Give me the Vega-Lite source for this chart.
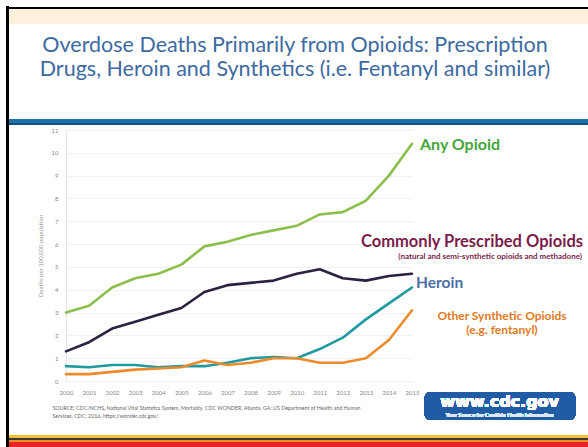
{
  "$schema": "https://vega.github.io/schema/vega-lite/v6.json",
  "width": 346,
  "height": 251,
  "autosize": "none",
  "padding": {"left": 66, "top": 130, "right": 176, "bottom": 66},
  "background": "white",
  "config": {"view": {"stroke": null}, "font": "Lato"},
  "resolve": {"scale": {"x": "independent", "y": "independent"}, "axis": {"x": "independent", "y": "independent"}},
  "title": {
    "text": ["Overdose Deaths Primarily from Opioids:  Prescription", "Drugs, Heroin and Synthetics (i.e. Fentanyl and similar)"],
    "anchor": "middle",
    "dx": 56,
    "offset": -75,
    "fontSize": 21.5,
    "font": "Lato",
    "fontWeight": "normal",
    "color": "#3d6aa1",
    "lineHeight": 24
  },
  "datasets": {
    "deaths": [
      {"year": 2000, "series": "Any Opioid", "value": 3.0},
      {"year": 2001, "series": "Any Opioid", "value": 3.3},
      {"year": 2002, "series": "Any Opioid", "value": 4.1},
      {"year": 2003, "series": "Any Opioid", "value": 4.5},
      {"year": 2004, "series": "Any Opioid", "value": 4.7},
      {"year": 2005, "series": "Any Opioid", "value": 5.1},
      {"year": 2006, "series": "Any Opioid", "value": 5.9},
      {"year": 2007, "series": "Any Opioid", "value": 6.1},
      {"year": 2008, "series": "Any Opioid", "value": 6.4},
      {"year": 2009, "series": "Any Opioid", "value": 6.6},
      {"year": 2010, "series": "Any Opioid", "value": 6.8},
      {"year": 2011, "series": "Any Opioid", "value": 7.3},
      {"year": 2012, "series": "Any Opioid", "value": 7.4},
      {"year": 2013, "series": "Any Opioid", "value": 7.9},
      {"year": 2014, "series": "Any Opioid", "value": 9.0},
      {"year": 2015, "series": "Any Opioid", "value": 10.4},
      {"year": 2000, "series": "Commonly Prescribed Opioids", "value": 1.3},
      {"year": 2001, "series": "Commonly Prescribed Opioids", "value": 1.7},
      {"year": 2002, "series": "Commonly Prescribed Opioids", "value": 2.3},
      {"year": 2003, "series": "Commonly Prescribed Opioids", "value": 2.6},
      {"year": 2004, "series": "Commonly Prescribed Opioids", "value": 2.9},
      {"year": 2005, "series": "Commonly Prescribed Opioids", "value": 3.2},
      {"year": 2006, "series": "Commonly Prescribed Opioids", "value": 3.9},
      {"year": 2007, "series": "Commonly Prescribed Opioids", "value": 4.2},
      {"year": 2008, "series": "Commonly Prescribed Opioids", "value": 4.3},
      {"year": 2009, "series": "Commonly Prescribed Opioids", "value": 4.4},
      {"year": 2010, "series": "Commonly Prescribed Opioids", "value": 4.7},
      {"year": 2011, "series": "Commonly Prescribed Opioids", "value": 4.9},
      {"year": 2012, "series": "Commonly Prescribed Opioids", "value": 4.5},
      {"year": 2013, "series": "Commonly Prescribed Opioids", "value": 4.4},
      {"year": 2014, "series": "Commonly Prescribed Opioids", "value": 4.6},
      {"year": 2015, "series": "Commonly Prescribed Opioids", "value": 4.7},
      {"year": 2000, "series": "Heroin", "value": 0.65},
      {"year": 2001, "series": "Heroin", "value": 0.6},
      {"year": 2002, "series": "Heroin", "value": 0.7},
      {"year": 2003, "series": "Heroin", "value": 0.7},
      {"year": 2004, "series": "Heroin", "value": 0.6},
      {"year": 2005, "series": "Heroin", "value": 0.65},
      {"year": 2006, "series": "Heroin", "value": 0.65},
      {"year": 2007, "series": "Heroin", "value": 0.8},
      {"year": 2008, "series": "Heroin", "value": 1.0},
      {"year": 2009, "series": "Heroin", "value": 1.05},
      {"year": 2010, "series": "Heroin", "value": 1.0},
      {"year": 2011, "series": "Heroin", "value": 1.4},
      {"year": 2012, "series": "Heroin", "value": 1.9},
      {"year": 2013, "series": "Heroin", "value": 2.7},
      {"year": 2014, "series": "Heroin", "value": 3.4},
      {"year": 2015, "series": "Heroin", "value": 4.1},
      {"year": 2000, "series": "Other Synthetic Opioids", "value": 0.3},
      {"year": 2001, "series": "Other Synthetic Opioids", "value": 0.3},
      {"year": 2002, "series": "Other Synthetic Opioids", "value": 0.4},
      {"year": 2003, "series": "Other Synthetic Opioids", "value": 0.5},
      {"year": 2004, "series": "Other Synthetic Opioids", "value": 0.55},
      {"year": 2005, "series": "Other Synthetic Opioids", "value": 0.6},
      {"year": 2006, "series": "Other Synthetic Opioids", "value": 0.9},
      {"year": 2007, "series": "Other Synthetic Opioids", "value": 0.7},
      {"year": 2008, "series": "Other Synthetic Opioids", "value": 0.8},
      {"year": 2009, "series": "Other Synthetic Opioids", "value": 1.0},
      {"year": 2010, "series": "Other Synthetic Opioids", "value": 1.0},
      {"year": 2011, "series": "Other Synthetic Opioids", "value": 0.8},
      {"year": 2012, "series": "Other Synthetic Opioids", "value": 0.8},
      {"year": 2013, "series": "Other Synthetic Opioids", "value": 1.0},
      {"year": 2014, "series": "Other Synthetic Opioids", "value": 1.8},
      {"year": 2015, "series": "Other Synthetic Opioids", "value": 3.1}
    ]
  },
  "data": {"name": "deaths"},
  "layer": [
    {
      "mark": {"type": "line", "strokeWidth": 2.6, "interpolate": "linear", "strokeJoin": "round", "strokeCap": "round"},
      "encoding": {
        "x": {
          "field": "year", "type": "quantitative",
          "scale": {"domain": [2000, 2015], "nice": false, "zero": false},
          "axis": {
            "values": [2000, 2001, 2002, 2003, 2004, 2005, 2006, 2007, 2008, 2009, 2010, 2011, 2012, 2013, 2014, 2015],
            "format": "d", "grid": false, "ticks": false, "domain": false, "labelOverlap": false, "labelFlush": false,
            "labelFontSize": 6, "labelColor": "#888", "labelPadding": 8, "labelFont": "Lato",
            "title": ["SOURCE: CDC/NCHS, National Vital Statistics System, Mortality. CDC WONDER, Atlanta, GA: US Department of Health and Human", "Services, CDC; 2016. https://wonder.cdc.gov/."],
            "titleFontSize": 5.3, "titleColor": "#666", "titleFontWeight": "normal", "titleFont": "Lato",
            "titleAnchor": "start", "titleAlign": "left", "titleBaseline": "top",
            "titleX": -14, "titleY": 24, "titleLineHeight": 8
          }
        },
        "y": {
          "field": "value", "type": "quantitative",
          "scale": {"domain": [0, 11], "nice": false},
          "axis": {
            "values": [0, 1, 2, 3, 4, 5, 6, 7, 8, 9, 10, 11],
            "ticks": false, "domainColor": "#e4e4e4", "gridColor": "#f0f0f0", "labelOverlap": false, "labelFlush": false,
            "labelFontSize": 6, "labelColor": "#888", "labelPadding": 8, "labelFont": "Lato",
            "title": "Deaths per 100,000 population", "titleFontSize": 6, "titleColor": "#999",
            "titleFontWeight": "normal", "titleFont": "Lato", "titlePadding": 8
          }
        },
        "color": {
          "field": "series", "type": "nominal", "legend": null,
          "scale": {
            "domain": ["Any Opioid", "Commonly Prescribed Opioids", "Heroin", "Other Synthetic Opioids"],
            "range": ["#8cbf4c", "#2c2140", "#1f9aa0", "#ec8a2c"]
          }
        }
      }
    },
    {
      "transform": [{"filter": "datum.series === 'Any Opioid' && datum.year === 2015"}],
      "mark": {"type": "text", "align": "left", "baseline": "middle", "dx": 8, "dy": 1, "fontSize": 16, "fontWeight": "bold", "color": "#43a63a", "font": "Lato"},
      "encoding": {"x": {"field": "year", "type": "quantitative", "scale": {"domain": [2000, 2015], "nice": false, "zero": false}, "axis": null}, "y": {"field": "value", "type": "quantitative", "scale": {"domain": [0, 11], "nice": false}, "axis": null}, "text": {"field": "series"}}
    },
    {
      "transform": [{"filter": "datum.series === 'Commonly Prescribed Opioids' && datum.year === 2015"}],
      "mark": {"type": "text", "align": "right", "baseline": "middle", "dx": 171, "dy": -32, "fontSize": 16.5, "fontWeight": "bold", "color": "#7a1d4c", "font": "Lato"},
      "encoding": {"x": {"field": "year", "type": "quantitative", "scale": {"domain": [2000, 2015], "nice": false, "zero": false}, "axis": null}, "y": {"field": "value", "type": "quantitative", "scale": {"domain": [0, 11], "nice": false}, "axis": null}, "text": {"field": "series"}}
    },
    {
      "transform": [{"filter": "datum.series === 'Commonly Prescribed Opioids' && datum.year === 2015"}],
      "mark": {"type": "text", "align": "right", "baseline": "middle", "dx": 170, "dy": -17, "fontSize": 8, "fontWeight": "bold", "color": "#7a1d4c", "font": "Lato", "text": "(natural and semi-synthetic opioids and methadone)"},
      "encoding": {"x": {"field": "year", "type": "quantitative", "scale": {"domain": [2000, 2015], "nice": false, "zero": false}, "axis": null}, "y": {"field": "value", "type": "quantitative", "scale": {"domain": [0, 11], "nice": false}, "axis": null}}
    },
    {
      "transform": [{"filter": "datum.series === 'Heroin' && datum.year === 2015"}],
      "mark": {"type": "text", "align": "left", "baseline": "middle", "dx": 4, "dy": -4, "fontSize": 15.5, "fontWeight": "bold", "color": "#4a6ea6", "font": "Lato"},
      "encoding": {"x": {"field": "year", "type": "quantitative", "scale": {"domain": [2000, 2015], "nice": false, "zero": false}, "axis": null}, "y": {"field": "value", "type": "quantitative", "scale": {"domain": [0, 11], "nice": false}, "axis": null}, "text": {"field": "series"}}
    },
    {
      "transform": [{"filter": "datum.series === 'Other Synthetic Opioids' && datum.year === 2015"}],
      "mark": {"type": "text", "align": "center", "baseline": "middle", "dx": 90, "dy": 6, "fontSize": 12, "fontWeight": "bold", "color": "#e07a1c", "font": "Lato", "lineHeight": 14, "text": ["Other Synthetic Opioids", "(e.g. fentanyl)"]},
      "encoding": {"x": {"field": "year", "type": "quantitative", "scale": {"domain": [2000, 2015], "nice": false, "zero": false}, "axis": null}, "y": {"field": "value", "type": "quantitative", "scale": {"domain": [0, 11], "nice": false}, "axis": null}}
    },
    {
      "mark": {"type": "rect", "color": "#fdf1de"},
      "encoding": {"x": {"datum": 1997.5, "type": "quantitative", "scale": {"domain": [2000, 2015], "nice": false, "zero": false}, "axis": null}, "x2": {"datum": 2023}, "y": {"datum": 16.3, "type": "quantitative", "scale": {"domain": [0, 11], "nice": false}, "axis": null}, "y2": {"datum": 15.65}}
    },
    {
      "mark": {"type": "rect", "color": "#1c72ab"},
      "encoding": {"x": {"datum": 1997.5, "type": "quantitative", "scale": {"domain": [2000, 2015], "nice": false, "zero": false}, "axis": null}, "x2": {"datum": 2023}, "y": {"datum": 11.46, "type": "quantitative", "scale": {"domain": [0, 11], "nice": false}, "axis": null}, "y2": {"datum": 11.22}}
    },
    {
      "mark": {"type": "rule", "color": "#16507c", "strokeWidth": 2},
      "encoding": {"x": {"datum": 1997.5, "type": "quantitative", "scale": {"domain": [2000, 2015], "nice": false, "zero": false}, "axis": null}, "x2": {"datum": 2023}, "y": {"datum": 11.26, "type": "quantitative", "scale": {"domain": [0, 11], "nice": false}, "axis": null}}
    },
    {
      "mark": {"type": "rect", "color": "#f2c232"},
      "encoding": {"x": {"datum": 1997.5, "type": "quantitative", "scale": {"domain": [2000, 2015], "nice": false, "zero": false}, "axis": null}, "x2": {"datum": 2023}, "y": {"datum": -2.397, "type": "quantitative", "scale": {"domain": [0, 11], "nice": false}, "axis": null}, "y2": {"datum": -2.511}}
    },
    {
      "mark": {"type": "rect", "color": "#3a3a3a"},
      "encoding": {"x": {"datum": 1997.5, "type": "quantitative", "scale": {"domain": [2000, 2015], "nice": false, "zero": false}, "axis": null}, "x2": {"datum": 2023}, "y": {"datum": -2.511, "type": "quantitative", "scale": {"domain": [0, 11], "nice": false}, "axis": null}, "y2": {"datum": -2.599}}
    },
    {
      "mark": {"type": "rect", "color": "#f0901e"},
      "encoding": {"x": {"datum": 1997.5, "type": "quantitative", "scale": {"domain": [2000, 2015], "nice": false, "zero": false}, "axis": null}, "x2": {"datum": 2023}, "y": {"datum": -2.599, "type": "quantitative", "scale": {"domain": [0, 11], "nice": false}, "axis": null}, "y2": {"datum": -2.686}}
    },
    {
      "mark": {"type": "rect", "color": "#e8232a"},
      "encoding": {"x": {"datum": 1997.5, "type": "quantitative", "scale": {"domain": [2000, 2015], "nice": false, "zero": false}, "axis": null}, "x2": {"datum": 2023}, "y": {"datum": -2.686, "type": "quantitative", "scale": {"domain": [0, 11], "nice": false}, "axis": null}, "y2": {"datum": -3.2}}
    },
    {
      "mark": {"type": "rule", "color": "#000000", "strokeWidth": 2},
      "encoding": {"x": {"datum": 1997.43, "type": "quantitative", "scale": {"domain": [2000, 2015], "nice": false, "zero": false}, "axis": null}, "x2": {"datum": 2023}, "y": {"datum": 16.35, "type": "quantitative", "scale": {"domain": [0, 11], "nice": false}, "axis": null}}
    },
    {
      "mark": {"type": "rule", "color": "#000000", "strokeWidth": 2.6},
      "encoding": {"x": {"datum": 1997.47, "type": "quantitative", "scale": {"domain": [2000, 2015], "nice": false, "zero": false}, "axis": null}, "y": {"datum": 16.4, "type": "quantitative", "scale": {"domain": [0, 11], "nice": false}, "axis": null}, "y2": {"datum": -3.2}}
    },
    {
      "mark": {"type": "rect", "color": "#1f5ca5", "cornerRadius": 5},
      "encoding": {"x": {"datum": 2015.56, "type": "quantitative", "scale": {"domain": [2000, 2015], "nice": false, "zero": false}, "axis": null}, "x2": {"datum": 2022.07}, "y": {"datum": -0.48, "type": "quantitative", "scale": {"domain": [0, 11], "nice": false}, "axis": null}, "y2": {"datum": -1.71}}
    },
    {
      "mark": {"type": "text", "color": "white", "font": "DejaVu Sans", "fontWeight": "bold", "fontSize": 16, "align": "center", "baseline": "middle", "text": "www.cdc.gov"},
      "encoding": {"x": {"datum": 2018.8, "type": "quantitative", "scale": {"domain": [2000, 2015], "nice": false, "zero": false}, "axis": null}, "y": {"datum": -0.92, "type": "quantitative", "scale": {"domain": [0, 11], "nice": false}, "axis": null}}
    },
    {
      "mark": {"type": "text", "color": "#dfe8f5", "font": "Lato", "fontSize": 5.6, "align": "center", "baseline": "middle", "text": "Your Source for Credible Health Information"},
      "encoding": {"x": {"datum": 2018.8, "type": "quantitative", "scale": {"domain": [2000, 2015], "nice": false, "zero": false}, "axis": null}, "y": {"datum": -1.5, "type": "quantitative", "scale": {"domain": [0, 11], "nice": false}, "axis": null}}
    }
  ]
}
